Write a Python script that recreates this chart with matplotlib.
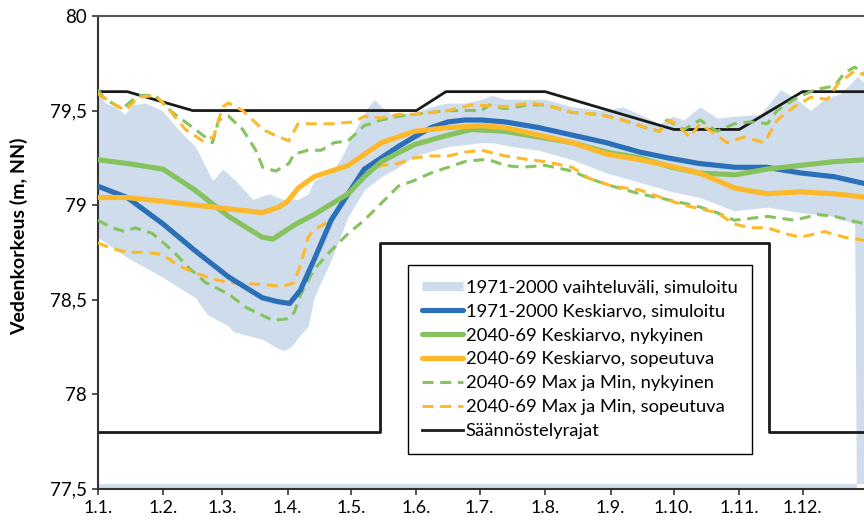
import matplotlib
matplotlib.use("Agg")
import matplotlib.pyplot as plt
from matplotlib.lines import Line2D

plt.rcParams['font.family'] = ['Lato', 'DejaVu Sans']

# ---- data (day of year, 0 = 1.1.) ----
month_ticks = [0, 31, 59, 90, 120, 151, 181, 212, 243, 273, 304, 334]
month_labels = ["1.1.", "1.2.", "1.3.", "1.4.", "1.5.", "1.6.", "1.7.", "1.8.",
                "1.9.", "1.10.", "1.11.", "1.12."]
y_ticks = [77.5, 78, 78.5, 79, 79.5, 80]
y_labels = ["77,5", "78", "78,5", "79", "79,5", "80"]

band_up_days = [0, 3.5, 8.2, 13, 16.3, 22.5, 30.6, 38.2, 46.3, 54.4, 59.2, 65.4, 73.5, 81.1,
                87.8, 94.9, 99.7, 102.5, 110.6, 115.4, 123.5, 128.2, 131.1, 134.4, 139.2,
                150, 158, 166, 174, 182, 186.8, 193, 201, 212, 224.9, 240.6, 248.7, 256.8,
                266.3, 272.5, 277.8, 285.4, 293.5, 301.6, 314, 323.5, 330.1, 337.8, 344.4,
                352, 360, 365]
band_up = [79.61, 79.54, 79.52, 79.48, 79.53, 79.54, 79.50, 79.40, 79.31, 79.13, 79.19, 79.13,
           79.03, 79.06, 79.03, 79.03, 79.06, 79.13, 79.17, 79.25, 79.43, 79.52, 79.56, 79.52,
           79.48, 79.49, 79.52, 79.54, 79.54, 79.56, 79.58, 79.56, 79.56, 79.56, 79.52, 79.50,
           79.52, 79.48, 79.43, 79.47, 79.45, 79.52, 79.46, 79.47, 79.48, 79.61, 79.57, 79.50,
           79.56, 79.59, 79.68, 79.63]
band_lo_days = [0, 14.4, 30.6, 46.3, 52, 62, 64.4, 78.2, 84, 87.8, 91.6, 95, 99.7, 102.5,
                110.6, 118.7, 126.3, 134.4, 142.5, 150, 166, 182, 187, 196, 209, 225, 241,
                257, 272.5, 285.4, 301.6, 317.3, 333, 349.2, 358.7, 359.5, 365]
band_lo = [78.83, 78.72, 78.62, 78.51, 78.42, 78.36, 78.33, 78.29, 78.25, 78.23, 78.25, 78.30,
           78.36, 78.51, 78.71, 78.94, 79.08, 79.15, 79.20, 79.26, 79.31, 79.33, 79.33, 79.31,
           79.29, 79.24, 79.17, 79.12, 79.07, 79.04, 78.97, 78.99, 78.96, 78.94, 78.90, 77.50,
           77.50]
band_base = 77.527

blue_days = [0, 14, 31, 46, 62, 78, 85, 91, 96, 102.5, 110.6, 118.7, 126.3, 134.4, 142.5, 150,
             158, 166, 174, 182, 193, 209, 225, 241, 257, 270, 285, 302, 317, 333, 349, 365]
blue_mean = [79.10, 79.04, 78.90, 78.76, 78.62, 78.51, 78.49, 78.48, 78.55, 78.71, 78.92, 79.06,
             79.19, 79.25, 79.31, 79.36, 79.41, 79.44, 79.45, 79.45, 79.44, 79.41, 79.37, 79.33,
             79.28, 79.25, 79.22, 79.20, 79.20, 79.17, 79.15, 79.11]

green_days = [0, 14, 31, 46, 62, 78, 83, 87, 94, 102.5, 118.7, 126.3, 134.4, 150, 166, 177,
              193, 209, 225, 241, 257, 272, 285, 302, 317, 333, 349, 365]
green_mean = [79.24, 79.22, 79.19, 79.08, 78.94, 78.83, 78.82, 78.85, 78.90, 78.95, 79.06,
              79.15, 79.23, 79.32, 79.37, 79.40, 79.39, 79.36, 79.33, 79.28, 79.25, 79.20,
              79.17, 79.16, 79.19, 79.21, 79.23, 79.24]

orange_days = [0, 14, 31, 46, 62, 78, 86, 90, 95, 102.5, 118.7, 134.4, 150, 166, 182, 193,
               209, 225, 241, 257, 270, 285, 302, 317, 333, 349, 365]
orange_mean = [79.04, 79.04, 79.02, 79.00, 78.98, 78.96, 78.99, 79.02, 79.09, 79.15, 79.21,
               79.33, 79.39, 79.41, 79.42, 79.41, 79.37, 79.33, 79.27, 79.24, 79.21, 79.17,
               79.09, 79.06, 79.07, 79.06, 79.04]

green_max_days = [0, 3.5, 11.6, 19.2, 27.3, 35.4, 46.3, 54.4, 57.3, 62, 68.7, 74.9, 78.2, 84.4,
                  90.6, 93, 99.7, 105.9, 112, 118.7, 126.3, 134.4, 142.5, 150, 158, 166, 182,
                  185.4, 193, 204.4, 212, 224.9, 237.7, 248.7, 259.7, 266.3, 269.7, 277.8,
                  285.4, 293.5, 301.6, 309.2, 317.3, 322, 330.1, 339.7, 349.2, 353.9, 358.7, 365]
green_max = [79.61, 79.56, 79.51, 79.58, 79.58, 79.49, 79.40, 79.33, 79.45, 79.47, 79.40, 79.29,
             79.20, 79.18, 79.22, 79.27, 79.29, 79.29, 79.33, 79.34, 79.42, 79.45, 79.47, 79.48,
             79.49, 79.50, 79.50, 79.53, 79.51, 79.53, 79.53, 79.49, 79.48, 79.45, 79.41, 79.39,
             79.45, 79.40, 79.45, 79.39, 79.43, 79.44, 79.43, 79.50, 79.56, 79.61, 79.63, 79.70,
             79.73, 79.68]

orange_max_days = [0, 6.8, 13, 19.2, 27.3, 33.5, 41.6, 49.7, 54.9, 59.2, 62, 68.7, 78.2, 85.9,
                   90.6, 94.9, 102.5, 110.6, 121.6, 126.3, 134.4, 142.5, 150, 158, 166, 177.3,
                   193, 204.4, 212, 224.9, 237.7, 248.7, 259.7, 266.3, 271.1, 275.9, 280.6,
                   285.4, 292, 298.2, 306.3, 315.9, 322, 330.1, 337.8, 345.9, 350.6, 358.7, 365]
orange_max = [79.59, 79.54, 79.50, 79.57, 79.58, 79.51, 79.40, 79.34, 79.36, 79.52, 79.54,
              79.50, 79.40, 79.36, 79.34, 79.43, 79.43, 79.43, 79.44, 79.47, 79.46, 79.48,
              79.48, 79.49, 79.50, 79.53, 79.52, 79.54, 79.53, 79.49, 79.48, 79.45, 79.41,
              79.39, 79.45, 79.41, 79.36, 79.43, 79.38, 79.33, 79.36, 79.33, 79.45, 79.52,
              79.57, 79.56, 79.64, 79.71, 79.68]

green_min_days = [0, 6.8, 13, 17.8, 25.9, 35.4, 43, 51.1, 62, 70.1, 83, 90.6, 93, 96.3, 102.5,
                  110.6, 118.7, 126.3, 134.4, 142.5, 150, 158, 166, 174, 182, 185.4, 193, 201,
                  212, 224.9, 233, 243.9, 256.8, 269.5, 277.8, 285.4, 293.5, 301.6, 317.3,
                  330.1, 341.1, 349.2, 360, 365]
green_min = [78.92, 78.88, 78.86, 78.88, 78.85, 78.76, 78.67, 78.59, 78.53, 78.46, 78.39, 78.40,
             78.43, 78.53, 78.66, 78.76, 78.85, 78.92, 79.01, 79.10, 79.13, 79.17, 79.20, 79.23,
             79.24, 79.24, 79.21, 79.20, 79.21, 79.18, 79.14, 79.10, 79.06, 79.03, 79.01, 78.99,
             78.96, 78.92, 78.94, 78.92, 78.95, 78.94, 78.91, 78.90]

orange_min_days = [0, 6.8, 14.4, 22.5, 30.6, 38.2, 46.3, 54.4, 62, 78.2, 86.8, 90.6, 93, 96.3,
                   99.7, 102.5, 110.6, 118.7, 126.3, 134.4, 142.5, 150, 158, 166, 174, 182, 193,
                   204.4, 212, 224.9, 233, 243.9, 256.8, 269.5, 277.8, 285.4, 293.5, 301.6,
                   309.2, 317.3, 325.4, 333, 344.4, 353.9, 365]
orange_min = [78.80, 78.77, 78.75, 78.75, 78.74, 78.68, 78.64, 78.61, 78.59, 78.58, 78.57, 78.58,
              78.59, 78.69, 78.83, 78.87, 78.92, 79.06, 79.17, 79.21, 79.22, 79.25, 79.26, 79.26,
              79.28, 79.29, 79.26, 79.24, 79.23, 79.20, 79.14, 79.10, 79.08, 79.03, 79.00, 78.98,
              78.96, 78.90, 78.88, 78.88, 78.85, 78.83, 78.86, 78.83, 78.81]

reg_up_days = [0, 14, 45, 151, 165, 212, 273, 304, 334, 365]
reg_up = [79.6, 79.6, 79.5, 79.5, 79.6, 79.6, 79.4, 79.4, 79.6, 79.6]
reg_lo_days = [0, 134, 134, 318, 318, 365]
reg_lo = [77.8, 77.8, 78.8, 78.8, 77.8, 77.8]

labels = ["1971-2000 vaihteluväli, simuloitu", "1971-2000 Keskiarvo, simuloitu",
          "2040-69 Keskiarvo, nykyinen", "2040-69 Keskiarvo, sopeutuva",
          "2040-69 Max ja Min, nykyinen", "2040-69 Max ja Min, sopeutuva", "Säännöstelyrajat"]

# ---- style ----
c_band = '#cfdcec'
c_blue = '#2a6fb7'
c_green = '#86c35e'
c_orange = '#fdb92c'
c_black = '#1a1a1a'

fig = plt.figure(figsize=(8.64, 5.22), dpi=100)
ax = fig.add_axes([0.1131, 0.0638, 0.8915, 0.9055])

ax.fill_between(band_up_days, 77.5, band_up, color=c_band, lw=0, zorder=1)
ax.fill_between(band_lo_days, band_base, band_lo, color='white', lw=0, zorder=1.1)

ax.plot(reg_up_days, reg_up, color=c_black, lw=2, zorder=2)
ax.plot(reg_lo_days, reg_lo, color=c_black, lw=2, zorder=2)

dash = (3.6, 2.2)
dlw = 2.2
ax.plot(green_max_days, green_max, color=c_green, lw=dlw, dashes=dash, zorder=3)
ax.plot(green_min_days, green_min, color=c_green, lw=dlw, dashes=dash, zorder=3)
ax.plot(orange_max_days, orange_max, color=c_orange, lw=dlw, dashes=dash, zorder=3.1)
ax.plot(orange_min_days, orange_min, color=c_orange, lw=dlw, dashes=dash, zorder=3.1)

mlw = 3.7
ax.plot(blue_days, blue_mean, color=c_blue, lw=mlw, zorder=4, solid_capstyle='round')
ax.plot(green_days, green_mean, color=c_green, lw=mlw, zorder=4.1, solid_capstyle='round')
ax.plot(orange_days, orange_mean, color=c_orange, lw=mlw, zorder=4.2, solid_capstyle='round')

ax.set_xlim(0, 365)
ax.set_ylim(77.5, 80)
ax.set_xticks(month_ticks)
ax.set_xticklabels(month_labels, fontsize=13)
ax.set_yticks(y_ticks)
ax.set_yticklabels(y_labels, fontsize=13.5)
ax.tick_params(direction='out', length=4, width=1.2, color='#333333', pad=4)
ax.set_ylabel("Vedenkorkeus (m, NN)", fontsize=14, fontweight='bold')
ax.yaxis.set_label_coords(-0.090, 0.535)

ax.spines['right'].set_visible(False)
ax.spines['top'].set_color('#555555')
ax.spines['top'].set_linewidth(1.5)
ax.spines['left'].set_color('#333333')
ax.spines['left'].set_linewidth(1.5)
ax.spines['bottom'].set_color('#333333')
ax.spines['bottom'].set_linewidth(1.5)

handles = [
    Line2D([], [], color=c_band, lw=6.5, solid_capstyle='butt'),
    Line2D([], [], color=c_blue, lw=mlw, solid_capstyle='round'),
    Line2D([], [], color=c_green, lw=mlw, solid_capstyle='round'),
    Line2D([], [], color=c_orange, lw=mlw, solid_capstyle='round'),
    Line2D([], [], color=c_green, lw=dlw, dashes=dash),
    Line2D([], [], color=c_orange, lw=dlw, dashes=dash),
    Line2D([], [], color=c_black, lw=2),
]
leg = ax.legend(handles, labels, loc='upper left', bbox_to_anchor=(0.4026, 0.473),
                borderaxespad=0, fontsize=13.2, handlelength=2.2, handletextpad=0.15,
                labelspacing=0.43, borderpad=0.8, fancybox=False, framealpha=1,
                edgecolor='black')
leg.get_frame().set_linewidth(1.0)
leg.set_zorder(10)

fig.savefig("out.png", dpi=100)
